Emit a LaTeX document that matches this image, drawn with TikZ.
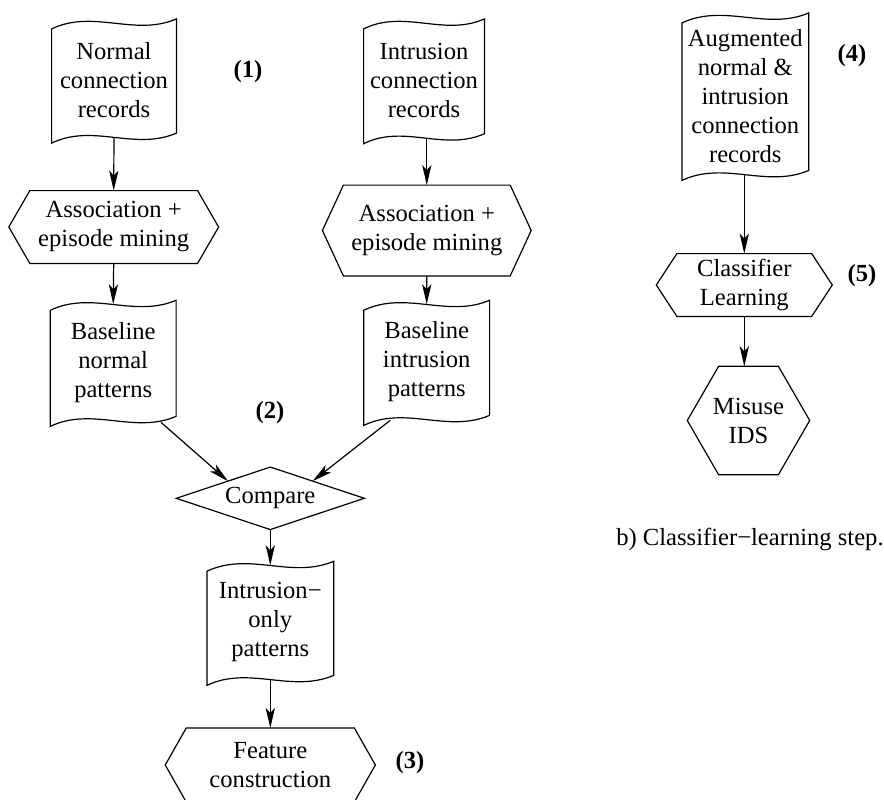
\documentclass[tikz,border=0pt]{standalone}
\usepackage{fontspec}
\setmainfont{Liberation Serif}
\usetikzlibrary{calc,arrows.meta}
\newcommand\figfont{\fontsize{12.3pt}{14.5pt}\selectfont}
\tikzset{
  outline/.style={draw=black, line width=0.6pt, line join=miter},
  box/.style={inner sep=0pt, align=center, font=\figfont},
  tag/.style={inner sep=0pt, font=\figfont\bfseries},
  arr/.style={line width=0.6pt, -{Stealth[length=10pt,width=4.6pt,inset=2.5pt]}},
}
% wavy "document" outline around a node (top and bottom edges are S-curves)
\newcommand\flagdoc[1]{%
  \draw[outline] ($(#1.north west)+(0,6)$)
    .. controls ($(#1.north west)!0.3333!(#1.north east)+(0,-14)$)
            and ($(#1.north west)!0.6667!(#1.north east)+(0,14)$)
    .. ($(#1.north east)+(0,-4)$)
    -- ($(#1.south east)+(0,-4)$)
    .. controls ($(#1.south west)!0.6667!(#1.south east)+(0,14)$)
            and ($(#1.south west)!0.3333!(#1.south east)+(0,-14)$)
    .. ($(#1.south west)+(0,6)$) -- cycle;}
% hexagon outline around a node; #2 = horizontal inset of the top/bottom edges
\newcommand\hexout[2]{%
  \draw[outline] ($(#1.north west)+(#2,0)$) -- ($(#1.north east)+(-#2,0)$)
    -- (#1.east) -- ($(#1.south east)+(-#2,0)$) -- ($(#1.south west)+(#2,0)$)
    -- (#1.west) -- cycle;}
\begin{document}
\begin{tikzpicture}[x=0.5pt,y=-0.5pt]
\useasboundingbox (0,0) rectangle (884,799);

% ---- left flow: pattern comparison ----
\node[box, minimum width=62pt, minimum height=56.7pt] (n1) at (114,80) {Normal\\connection\\records};
\node[box, minimum width=104.5pt, minimum height=36pt] (h1) at (113.7,227) {Association +\\episode mining};
\node[box, minimum width=62.5pt, minimum height=57.65pt] (b1) at (113.2,362.3) {Baseline\\normal\\patterns};

\node[box, minimum width=60pt, minimum height=57pt] (n2) at (424,80.3) {Intrusion\\connection\\records};
\node[box, minimum width=104pt, minimum height=45pt] (h2) at (426.8,230.5) {Association +\\episode mining};
\node[box, minimum width=62.5pt, minimum height=57.15pt] (b2) at (426.7,361.8) {Baseline\\intrusion\\patterns};

\node[box, minimum width=93.65pt, minimum height=30.85pt] (cmp) at (270.3,498.3) {Compare};
\node[box, minimum width=63pt, minimum height=56.65pt] (io) at (270.3,622.3) {Intrusion−\\only\\patterns};
\node[box, minimum width=104.65pt, minimum height=36.65pt] (fc) at (270.3,765) {Feature\\construction};

\flagdoc{n1} \flagdoc{b1} \flagdoc{n2} \flagdoc{b2} \flagdoc{io}
\hexout{h1}{21} \hexout{h2}{21} \hexout{fc}{21}
\draw[outline] (cmp.west) -- (cmp.north) -- (cmp.east) -- (cmp.south) -- cycle;

\draw[arr] (n1.south) -- (h1.north);
\draw[arr] (h1.south) -- (b1.north);
\draw[arr] (h2.north |- n2.south) -- (h2.north);
\draw[arr] (h2.south) -- (b2.north);
\draw[arr] ($(b1.south west)!0.88!(b1.south east)+(0,2)$) -- ($(cmp.west)!0.55!(cmp.north)$);
\draw[arr] ($(b2.south west)!0.21!(b2.south east)+(0,1)$) -- ($(cmp.north)!0.45!(cmp.east)$);
\draw[arr] (cmp.south) -- (io.north);
\draw[arr] (io.south) -- (fc.north);

\node[tag] (t1) at (248,72) {(1)};
\node[tag] (t2) at (270,413) {(2)};
\node[tag] (t3) at (410,763) {(3)};

% ---- right flow: classifier learning ----
\node[box, minimum width=63pt, minimum height=78.35pt] (aug) at (745.3,95.7) {Augmented\\normal \&\\intrusion\\connection\\records};
\node[box, minimum width=87.6pt, minimum height=31pt] (cl) at (744.3,285) {Classifier\\Learning};
\node[box, minimum width=60.8pt, minimum height=53.8pt] (ids) at (748.5,420.5) {Misuse\\IDS};

\flagdoc{aug}
\hexout{cl}{20.6}
\hexout{ids}{31.3}

\draw[arr] (cl.north |- aug.south) -- (cl.north);
\draw[arr] (cl.south) -- (cl.south |- ids.north);

\node[tag] (t4) at (852,56) {(4)};
\node[tag] (t5) at (862,276) {(5)};

\node[box, anchor=base] (cap) at (750,545) {b) Classifier−learning step.};
\end{tikzpicture}
\end{document}
